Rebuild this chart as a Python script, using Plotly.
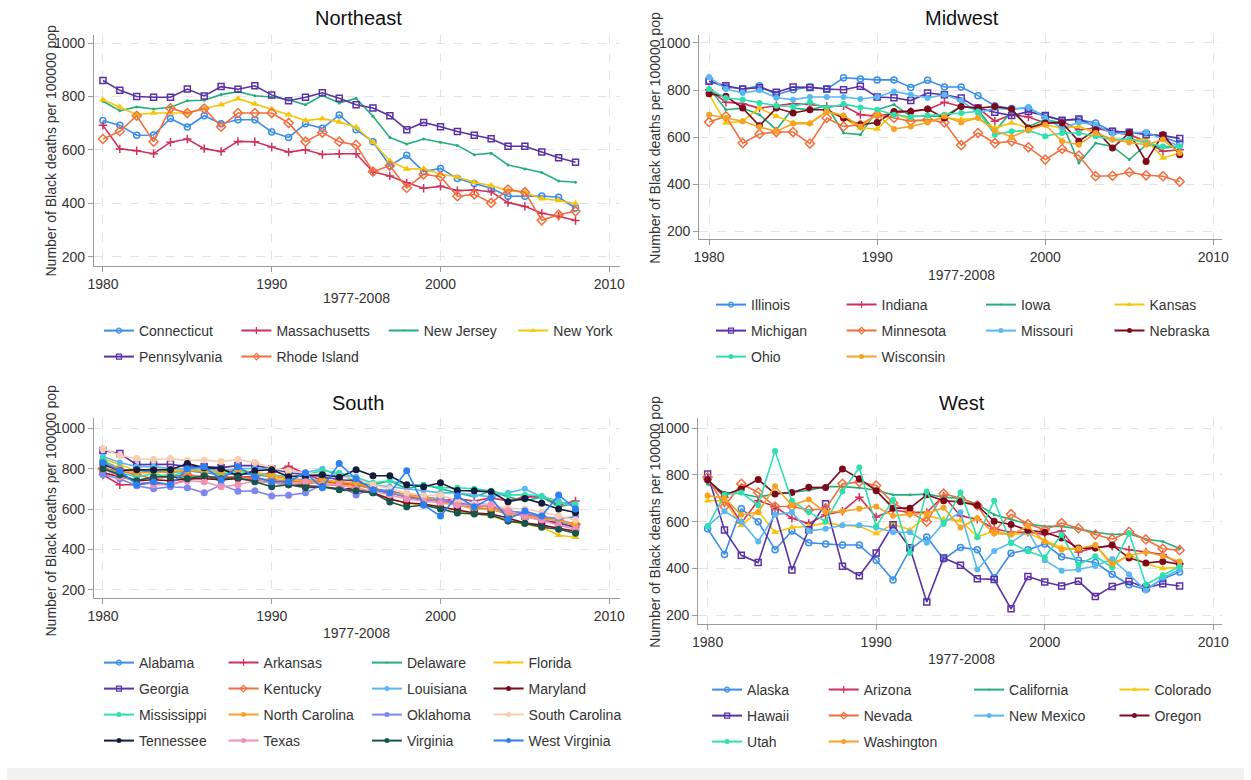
import plotly.graph_objects as go

W, H = 1251, 780
FONT = "Liberation Sans, Arial, sans-serif"

years = list(range(1980, 2009))

# ---------------- Northeast ----------------
connecticut = [710, 692, 655, 656, 718, 686, 728, 698, 713, 713, 667, 647, 698, 681, 731, 676, 631, 541, 580, 519, 531, 493, 475, 457, 427, 427, 428, 423, 383]
massachusetts = [692, 604, 597, 586, 629, 641, 605, 594, 632, 631, 611, 592, 601, 583, 586, 586, 518, 503, 477, 457, 464, 448, 450, 444, 403, 389, 363, 352, 336]
new_jersey = [782, 747, 761, 753, 760, 784, 786, 807, 818, 803, 798, 788, 769, 804, 776, 793, 726, 647, 622, 641, 629, 617, 582, 588, 544, 529, 516, 484, 479]
new_york = [788, 761, 732, 738, 738, 738, 755, 769, 792, 772, 753, 732, 710, 717, 705, 685, 629, 559, 529, 530, 510, 499, 479, 467, 448, 442, 418, 411, 400]
pennsylvania = [860, 823, 800, 797, 797, 828, 802, 837, 827, 840, 806, 784, 797, 814, 793, 769, 757, 728, 676, 703, 687, 669, 655, 642, 614, 614, 592, 571, 554]
rhode_island = [641, 670, 728, 631, 756, 738, 755, 687, 738, 738, 738, 701, 631, 665, 631, 619, 519, 541, 458, 509, 500, 427, 434, 402, 452, 442, 337, 358, 371]

# ---------------- Midwest ----------------
illinois = [837, 813, 804, 818, 780, 801, 813, 804, 852, 847, 843, 843, 811, 841, 813, 813, 776, 733, 721, 722, 688, 670, 674, 660, 624, 620, 617, 600, 574]
indiana = [801, 748, 742, 723, 733, 742, 738, 730, 733, 695, 688, 702, 709, 716, 748, 730, 723, 667, 695, 685, 660, 667, 631, 638, 620, 610, 582, 539, 546]
iowa = [809, 716, 723, 695, 631, 723, 716, 733, 617, 610, 716, 738, 688, 688, 688, 733, 716, 624, 709, 645, 674, 660, 489, 574, 560, 504, 567, 553, 560]
kansas = [780, 660, 667, 723, 688, 660, 660, 709, 681, 638, 634, 702, 674, 667, 681, 674, 681, 638, 660, 638, 652, 638, 645, 617, 589, 589, 589, 511, 532]
michigan = [837, 818, 804, 810, 790, 813, 811, 804, 801, 816, 770, 767, 755, 787, 780, 766, 723, 705, 691, 708, 691, 671, 677, 643, 624, 620, 610, 606, 594]
minnesota = [664, 688, 574, 613, 621, 621, 572, 681, 645, 652, 695, 681, 667, 674, 662, 565, 617, 574, 582, 556, 504, 549, 521, 433, 435, 450, 437, 433, 410]
missouri = [855, 804, 787, 799, 767, 759, 770, 770, 770, 762, 770, 794, 780, 766, 780, 755, 702, 723, 716, 728, 681, 638, 662, 652, 614, 617, 620, 591, 560]
nebraska = [784, 773, 723, 648, 723, 702, 716, 716, 681, 652, 662, 709, 709, 719, 681, 730, 723, 730, 719, 638, 660, 660, 582, 631, 553, 617, 496, 610, 525]
ohio = [804, 766, 759, 745, 733, 730, 748, 723, 740, 726, 716, 695, 685, 691, 695, 702, 709, 610, 624, 628, 603, 617, 617, 603, 589, 591, 574, 560, 560]
wisconsin = [695, 681, 667, 643, 624, 657, 657, 709, 691, 645, 695, 634, 645, 662, 688, 662, 681, 627, 600, 631, 652, 582, 567, 617, 589, 577, 567, 589, 532]

# ---------------- South ----------------
alabama = [840, 800, 780, 790, 780, 790, 780, 770, 775, 770, 760, 750, 745, 740, 730, 730, 700, 690, 670, 660, 650, 630, 620, 610, 590, 580, 560, 540, 520]
arkansas = [770, 720, 720, 730, 720, 745, 760, 750, 760, 760, 780, 812, 775, 740, 720, 720, 700, 680, 670, 660, 640, 650, 640, 655, 640, 660, 660, 620, 640]
delaware = [810, 770, 740, 760, 770, 760, 760, 740, 760, 750, 740, 730, 720, 740, 780, 730, 720, 740, 700, 720, 700, 680, 660, 690, 660, 640, 660, 610, 630]
florida = [850, 820, 790, 800, 790, 800, 785, 790, 790, 780, 760, 745, 735, 730, 720, 710, 680, 650, 630, 620, 615, 590, 575, 565, 540, 525, 510, 470, 460]
georgia = [890, 875, 820, 820, 822, 810, 810, 805, 815, 815, 800, 780, 770, 760, 745, 740, 700, 680, 660, 650, 645, 620, 605, 600, 575, 565, 545, 530, 510]
kentucky = [800, 790, 770, 750, 760, 770, 760, 760, 760, 750, 745, 740, 730, 740, 730, 720, 700, 680, 670, 650, 640, 625, 610, 615, 580, 570, 560, 545, 525]
louisiana = [860, 830, 810, 810, 800, 800, 800, 790, 800, 800, 800, 790, 780, 800, 760, 760, 720, 710, 700, 690, 680, 680, 670, 660, 680, 700, 660, 640, 610]
maryland = [780, 760, 740, 745, 740, 750, 750, 745, 750, 740, 730, 720, 715, 710, 700, 700, 680, 650, 630, 625, 610, 595, 580, 575, 555, 530, 520, 505, 490]
mississippi = [850, 780, 760, 775, 760, 790, 790, 770, 790, 770, 770, 760, 770, 790, 780, 755, 730, 740, 720, 720, 705, 705, 700, 690, 670, 670, 665, 630, 625]
north_carolina = [830, 800, 780, 780, 785, 790, 790, 780, 795, 780, 770, 750, 740, 745, 735, 730, 700, 680, 670, 655, 650, 620, 600, 600, 575, 565, 550, 545, 520]
oklahoma = [770, 750, 715, 700, 710, 705, 680, 720, 688, 690, 665, 668, 680, 720, 718, 670, 700, 680, 660, 640, 650, 620, 630, 620, 590, 580, 560, 555, 560]
south_carolina = [900, 865, 850, 845, 850, 840, 842, 835, 845, 830, 805, 790, 780, 770, 760, 750, 720, 700, 680, 665, 670, 640, 625, 620, 605, 600, 585, 565, 545]
tennessee = [820, 790, 795, 793, 795, 825, 805, 800, 765, 790, 795, 760, 765, 770, 758, 795, 765, 765, 720, 710, 730, 692, 690, 685, 636, 652, 628, 600, 583]
texas = [800, 760, 740, 720, 720, 740, 735, 710, 720, 740, 730, 720, 735, 720, 720, 700, 690, 670, 650, 640, 630, 620, 615, 620, 590, 560, 545, 520, 500]
virginia = [800, 770, 740, 760, 760, 750, 765, 750, 755, 735, 710, 720, 705, 710, 695, 690, 680, 635, 610, 620, 600, 580, 575, 570, 540, 530, 510, 500, 480]
west_virginia = [830, 790, 720, 735, 720, 800, 810, 745, 810, 760, 735, 735, 780, 705, 825, 750, 695, 680, 790, 620, 565, 665, 610, 655, 550, 590, 565, 670, 600]

# ---------------- West ----------------
alaska = [570, 460, 655, 600, 480, 560, 510, 505, 500, 500, 435, 350, 480, 535, 440, 490, 480, 360, 465, 480, 505, 450, 435, 425, 375, 330, 310, 355, 385]
arizona = [780, 705, 595, 690, 665, 615, 592, 630, 645, 705, 620, 650, 640, 640, 710, 625, 610, 570, 555, 555, 545, 560, 470, 490, 495, 480, 470, 460, 420]
california = [760, 725, 720, 705, 720, 725, 735, 750, 750, 745, 735, 715, 715, 718, 705, 700, 675, 630, 610, 590, 580, 580, 570, 555, 545, 548, 525, 515, 485]
colorado = [690, 690, 585, 645, 555, 575, 580, 595, 585, 580, 550, 590, 565, 625, 610, 605, 535, 560, 545, 550, 520, 490, 480, 500, 410, 460, 420, 400, 405]
hawaii = [804, 564, 456, 425, 644, 393, 566, 677, 409, 369, 466, 587, 488, 256, 445, 414, 356, 353, 227, 365, 342, 325, 345, 280, 323, 345, 317, 334, 325]
nevada = [790, 665, 762, 725, 665, 665, 650, 655, 762, 770, 755, 680, 640, 600, 720, 700, 670, 560, 632, 590, 565, 594, 572, 545, 525, 557, 524, 484, 478]
new_mexico = [580, 645, 600, 515, 630, 640, 560, 570, 585, 585, 575, 555, 555, 510, 595, 640, 395, 475, 510, 560, 435, 390, 395, 410, 440, 375, 305, 360, 395]
oregon = [779, 715, 740, 781, 719, 725, 747, 746, 826, 784, 733, 658, 658, 715, 690, 685, 670, 602, 588, 563, 555, 530, 487, 487, 500, 445, 423, 430, 418]
utah = [580, 715, 725, 670, 903, 690, 641, 601, 729, 832, 580, 694, 466, 729, 590, 725, 533, 690, 509, 473, 448, 544, 416, 452, 405, 552, 331, 371, 409]
washington = [712, 700, 630, 640, 752, 670, 695, 640, 645, 655, 665, 625, 632, 635, 660, 575, 615, 550, 545, 580, 515, 480, 485, 500, 420, 455, 470, 453, 430]

northeast = [("Connecticut", connecticut), ("Massachusetts", massachusetts),
             ("New Jersey", new_jersey), ("New York", new_york),
             ("Pennsylvania", pennsylvania), ("Rhode Island", rhode_island)]
midwest = [("Illinois", illinois), ("Indiana", indiana), ("Iowa", iowa), ("Kansas", kansas),
           ("Michigan", michigan), ("Minnesota", minnesota), ("Missouri", missouri),
           ("Nebraska", nebraska), ("Ohio", ohio), ("Wisconsin", wisconsin)]
south = [("Alabama", alabama), ("Arkansas", arkansas), ("Delaware", delaware), ("Florida", florida),
         ("Georgia", georgia), ("Kentucky", kentucky), ("Louisiana", louisiana), ("Maryland", maryland),
         ("Mississippi", mississippi), ("North Carolina", north_carolina), ("Oklahoma", oklahoma),
         ("South Carolina", south_carolina), ("Tennessee", tennessee), ("Texas", texas),
         ("Virginia", virginia), ("West Virginia", west_virginia)]
west = [("Alaska", alaska), ("Arizona", arizona), ("California", california), ("Colorado", colorado),
        ("Hawaii", hawaii), ("Nevada", nevada), ("New Mexico", new_mexico), ("Oregon", oregon),
        ("Utah", utah), ("Washington", washington)]

y_ticks = [200, 400, 600, 800, 1000]
x_ticks = [1980, 1990, 2000, 2010]

# ---------------- styles ----------------
colors = ['#3A8DE8', '#D0305C', '#24AE7A', '#F7C508', '#5A31A6', '#F26E3E', '#58B8F2', '#7D0A1C',
          '#2EE0AE', '#F6A323', '#7F86EE', '#F8CDB0', '#141B3B', '#F291B2', '#17564C', '#2C80F4']
symbols = [('circle-open', 6), ('cross-thin', 6), ('circle', 3), ('triangle-up', 7),
           ('square-open', 6), ('diamond-open', 7), ('circle', 6), ('circle', 7),
           ('circle', 6), ('circle', 6), ('circle', 7), ('circle', 7),
           ('circle', 7), ('circle', 7), ('circle', 7), ('circle', 7)]

panels = [
    dict(name="Northeast", data=northeast, px=(88, 620, 35, 266), xr=(1979.47, 2010.64), yr=(166, 1030),
         title=(355, 18), xt=(353, 298), yt=(45, 150),
         cols=[139, 278, 427, 558], rows=[331, 357]),
    dict(name="Midwest", data=midwest, px=(700, 1229, 35, 239), xr=(1979.41, 2010.53), yr=(166, 1034),
         title=(966, 18), xt=(965, 275), yt=(655, 138),
         cols=[758, 890, 1031, 1161], rows=[305, 331, 357]),
    dict(name="South", data=south, px=(88, 620, 418, 598), xr=(1979.47, 2010.64), yr=(159, 1051),
         title=(355, 403), xt=(353, 633), yt=(45, 510),
         cols=[139, 265, 410, 533], rows=[663, 689, 715, 741]),
    dict(name="West", data=west, px=(699, 1229, 418, 624), xr=(1979.44, 2010.53), yr=(162, 1044),
         title=(966, 403), xt=(965, 659), yt=(655, 522),
         cols=[754, 872, 1019, 1166], rows=[690, 716, 742]),
]

fig = go.Figure()
layout = dict(width=W, height=H, margin=dict(l=0, r=0, t=0, b=0),
              paper_bgcolor='white', plot_bgcolor='white',
              font=dict(family=FONT, size=14, color='#333333'),
              showlegend=True)
annotations = []
shapes = [dict(type='rect', xref='paper', yref='paper', x0=0, x1=1, y0=0, y1=12 / H,
               fillcolor='#f1f1f1', line=dict(width=0), layer='below')]

leg_idx = 0
for pi, p in enumerate(panels):
    sfx = '' if pi == 0 else str(pi + 1)
    l, r, t, b = p['px']
    axis_common = dict(showline=True, linecolor='#9a9a9a', linewidth=1.2,
                       ticks='outside', ticklen=5, tickcolor='#9a9a9a', tickwidth=1,
                       showgrid=True, gridcolor='#e3e3e3', griddash='dash', gridwidth=1,
                       zeroline=False, tickfont=dict(size=14, color='#333333', family=FONT))
    layout['xaxis' + sfx] = dict(axis_common, domain=[l / W, r / W], range=list(p['xr']),
                                 tickvals=x_ticks, anchor='y' + sfx)
    layout['yaxis' + sfx] = dict(axis_common, domain=[1 - b / H, 1 - t / H], range=list(p['yr']),
                                 tickvals=y_ticks, anchor='x' + sfx)
    annotations.append(dict(text=p['name'], x=p['title'][0] / W, y=1 - p['title'][1] / H,
                            xref='paper', yref='paper', showarrow=False, xanchor='center', yanchor='middle',
                            font=dict(size=20, color='#111111', family=FONT)))
    annotations.append(dict(text="1977-2008", x=p['xt'][0] / W, y=1 - p['xt'][1] / H,
                            xref='paper', yref='paper', showarrow=False, xanchor='center', yanchor='middle',
                            font=dict(size=14, color='#333333', family=FONT)))
    annotations.append(dict(text="Number of Black deaths per 100000 pop", x=p['yt'][0] / W,
                            y=1 - p['yt'][1] / H, xref='paper', yref='paper', showarrow=False,
                            textangle=-90, xanchor='center', yanchor='middle',
                            font=dict(size=14, color='#333333', family=FONT)))
    for si, (state, vals) in enumerate(p['data']):
        sym, size = symbols[si]
        c = colors[si]
        is_open = sym.endswith('-open') or sym == 'cross-thin'
        leg_idx += 1
        lid = 'legend' if leg_idx == 1 else 'legend%d' % leg_idx
        # the data trace
        fig.add_trace(go.Scatter(
            x=years, y=vals, name=state, mode='lines+markers',
            line=dict(color=c, width=1.6),
            marker=dict(symbol=sym, size=size, color=c,
                        line=dict(color=c, width=1.5 if is_open else 0)),
            xaxis='x' + sfx, yaxis='y' + sfx, showlegend=False, legendgroup=state))
        # legend key (smaller symbol, as in the reference key)
        lsize = 2 if sym == 'circle' and size <= 3 else 5
        fig.add_trace(go.Scatter(
            x=[None], y=[None], name=state, mode='lines+markers',
            line=dict(color=c, width=2),
            marker=dict(symbol=sym, size=lsize, color=c,
                        line=dict(color=c, width=1.2 if is_open else 0)),
            xaxis='x' + sfx, yaxis='y' + sfx, legend=lid, legendgroup=state, hoverinfo='skip'))
        col = si % 4
        row = si // 4
        layout[lid] = dict(x=(p['cols'][col] - 46) / W, y=1 - p['rows'][row] / H,
                           xanchor='left', yanchor='middle', bgcolor='rgba(0,0,0,0)',
                           borderwidth=0, font=dict(size=14, color='#333333', family=FONT),
                           itemwidth=30, itemclick=False, itemdoubleclick=False)

layout['annotations'] = annotations
layout['shapes'] = shapes
fig.update_layout(**layout)
fig.write_html("out.html")
